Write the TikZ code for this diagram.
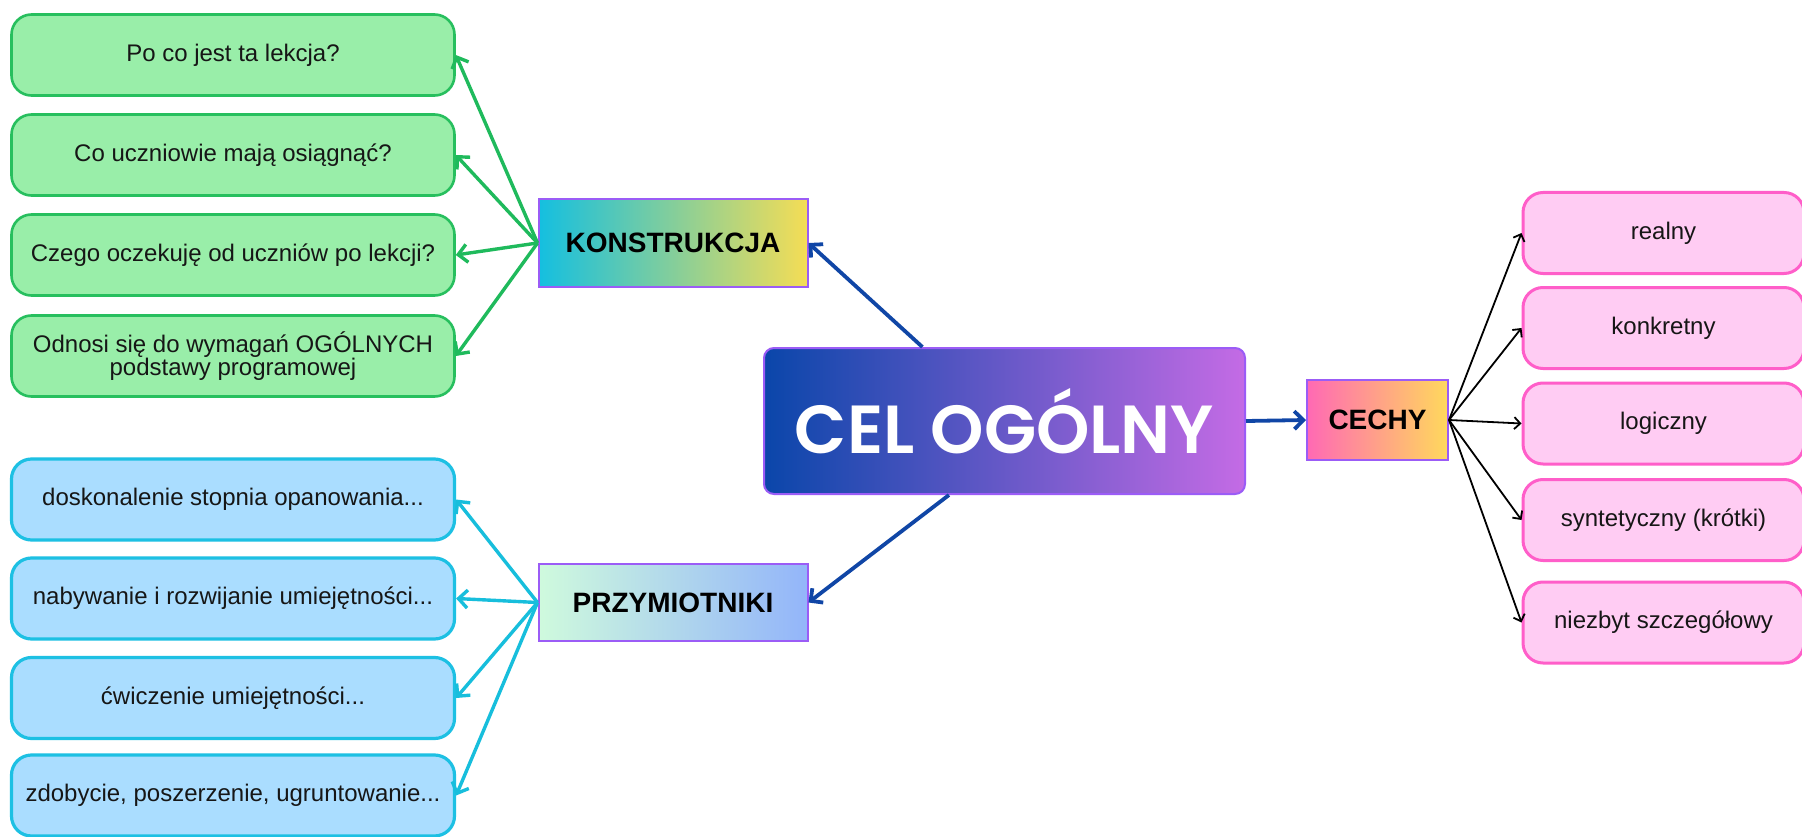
\documentclass[tikz,border=0pt]{standalone}
\usepackage{fontspec}
\setmainfont{Liberation Sans}
\newfontfamily\celfont{Poppins}[UprightFont=* SemiBold]
\usetikzlibrary{arrows.meta,calc}
\definecolor{gfill}{HTML}{99EEA9}
\definecolor{gline}{HTML}{27BF5E}
\definecolor{garr}{HTML}{1FBA5C}
\definecolor{bfill}{HTML}{AADDFF}
\definecolor{bline}{HTML}{1DC0E3}
\definecolor{barr}{HTML}{17BEDC}
\definecolor{pfill}{HTML}{FFCCF3}
\definecolor{pline}{HTML}{FF5EC9}
\definecolor{darr}{HTML}{1046A6}
\definecolor{purp}{HTML}{9B5CF6}
\definecolor{txt}{HTML}{161616}
\begin{document}
\begin{tikzpicture}[x=1pt,y=-1pt,
  leaf/.style={rounded corners=20pt, minimum width=443pt, minimum height=81pt,
    inner sep=0pt, align=center, text=txt, font=\fontsize{24}{19}\selectfont},
  gbox/.style={leaf, draw=gline, fill=gfill, line width=2.6pt},
  bbox/.style={leaf, draw=bline, fill=bfill, line width=3.2pt},
  pbox/.style={leaf, draw=pline, fill=pfill, line width=3pt, minimum width=281pt},
  hub/.style={draw=purp, line width=2pt, inner sep=0pt, text=black,
    font=\fontsize{28}{30}\selectfont\bfseries},
  garrow/.style={draw=garr, line width=3.4pt, -{Straight Barb[length=9pt,width=18pt]}},
  barrow/.style={draw=barr, line width=3.4pt, -{Straight Barb[length=9pt,width=18pt]}},
  darrow/.style={draw=darr, line width=3.8pt, -{Straight Barb[length=9pt,width=18pt]}},
  karrow/.style={draw=black, line width=1.8pt, -{Straight Barb[length=6pt,width=12pt]}}]
\clip (0,0) rectangle (1802,837);
\fill[white] (0,0) rectangle (1802,837);

% central node
\node[draw=purp, line width=2pt, rounded corners=10pt, left color={rgb,255:red,10;green,70;blue,170},
  right color={rgb,255:red,196;green,107;blue,229},
  minimum width=481pt, minimum height=146pt, inner sep=0pt, text=white,
  font=\celfont\fontsize{68}{72}\selectfont] (cel) at (1004.5,421) {CEL OGÓLNY};

% hubs
\node[hub, left color={rgb,255:red,20;green,191;blue,224}, right color={rgb,255:red,245;green,221;blue,85},
  minimum width=269pt, minimum height=88pt] (kons) at (673,243) {KONSTRUKCJA};
\node[hub, left color={rgb,255:red,207;green,250;blue,221}, right color={rgb,255:red,147;green,181;blue,250},
  minimum width=269pt, minimum height=77pt] (prz) at (673,602.5) {PRZYMIOTNIKI};
\node[hub, left color={rgb,255:red,255;green,105;blue,180}, right color={rgb,255:red,255;green,217;blue,92},
  minimum width=141pt, minimum height=80pt] (cechy) at (1377.5,420) {CECHY};

% green leaves
\node[gbox] (g1) at (233,55) {Po co jest ta lekcja?};
\node[gbox] (g2) at (233,155) {Co uczniowie mają osiągnąć?};
\node[gbox] (g3) at (233,255) {Czego oczekuję od uczniów po lekcji?};
\node[gbox] (g4) at (233,356) {Odnosi się do wymagań OGÓLNYCH\\podstawy programowej};

% blue leaves
\node[bbox] (b1) at (233,499.5) {doskonalenie stopnia opanowania...};
\node[bbox] (b2) at (233,598.5) {nabywanie i rozwijanie umiejętności...};
\node[bbox] (b3) at (233,698) {ćwiczenie umiejętności...};
\node[bbox] (b4) at (233,795.5) {zdobycie, poszerzenie, ugruntowanie...};

% pink leaves
\node[pbox] (p1) at (1663.5,233) {realny};
\node[pbox] (p2) at (1663.5,328) {konkretny};
\node[pbox] (p3) at (1663.5,423.5) {logiczny};
\node[pbox] (p4) at (1663.5,520) {syntetyczny (krótki)};
\node[pbox] (p5) at (1663.5,622.5) {niezbyt szczegółowy};

% main connectors
\draw[darrow] ($(cel.north west)!0.33!(cel.north east)$) -- (kons.east);
\draw[darrow] ($(cel.south west)!0.385!(cel.south east)$) -- (prz.east);
\draw[darrow] (cel.east) -- (cechy.west);

% green connectors
\foreach \n in {g1,g2,g3,g4} \draw[garrow] (kons.west) -- (\n.east);
% blue connectors
\foreach \n in {b1,b2,b3,b4} \draw[barrow] (prz.west) -- (\n.east);
% black connectors
\foreach \n in {p1,p2,p3,p4,p5} \draw[karrow] (cechy.east) -- (\n.west);
\end{tikzpicture}
\end{document}
